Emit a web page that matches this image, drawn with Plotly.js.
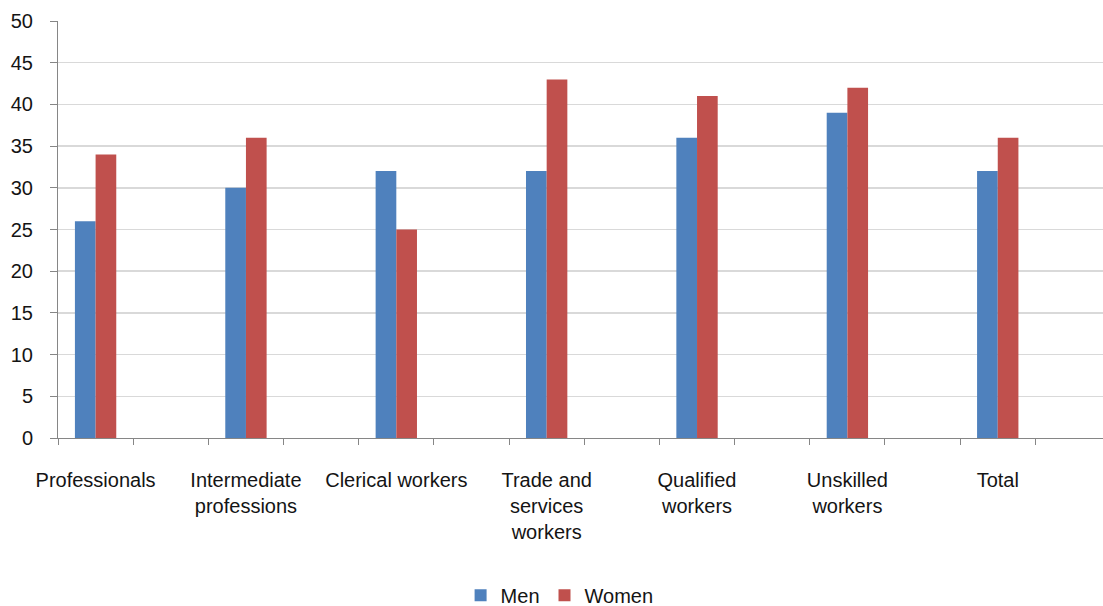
<!DOCTYPE html>
<html>
<head>
<meta charset="utf-8">
<script src="https://cdn.plot.ly/plotly-3.0.1.min.js"></script>
<style>
  html, body { margin: 0; padding: 0; background: #ffffff; }
  #chart { width: 1103px; height: 606px; }
</style>
</head>
<body>
<div id="chart"></div>
<script>
// Data
const categories = [
  "Professionals",
  "Intermediate<br>professions",
  "Clerical workers",
  "Trade and<br>services<br>workers",
  "Qualified<br>workers",
  "Unskilled<br>workers",
  "Total"
];
const men   = [26, 30, 32, 32, 36, 39, 32];
const women = [34, 36, 25, 43, 41, 42, 36];
const seriesNames = ["Men", "Women"];
const yTicks = [0, 5, 10, 15, 20, 25, 30, 35, 40, 45, 50];

// Each category is followed by an empty slot (as in the source spreadsheet)
const slotIds = [];
const slotText = [];
categories.forEach((c, i) => {
  slotIds.push("cat" + i);  slotText.push(c);
  slotIds.push("gap" + i);  slotText.push("");
});
const catIds = categories.map((c, i) => "cat" + i);

const FONT = '"Liberation Sans Narrow", "Arial Narrow", "Liberation Sans", Arial, sans-serif';
const TXT = "#141414";

const traces = [
  { type: "bar", name: seriesNames[0], x: catIds, y: men,
    marker: { color: "#4F81BD" }, hoverinfo: "y" },
  { type: "bar", name: seriesNames[1], x: catIds, y: women,
    marker: { color: "#C0504D" }, hoverinfo: "y" }
];

const layout = {
  width: 1103, height: 606,
  margin: { l: 58, r: 0, t: 21, b: 168, pad: 0, autoexpand: false },
  paper_bgcolor: "#ffffff",
  plot_bgcolor: "#ffffff",
  font: { family: FONT, size: 20, color: TXT },
  barmode: "group",
  bargap: 0.45,
  bargroupgap: 0,
  showlegend: true,
  legend: {
    orientation: "h",
    x: 0.48, xanchor: "center",
    y: -0.377, yanchor: "middle",
    font: { family: FONT, size: 20, color: TXT },
    itemwidth: 30,
    traceorder: "normal"
  },
  xaxis: {
    type: "category",
    categoryorder: "array",
    categoryarray: slotIds,
    tickvals: slotIds,
    ticktext: slotText,
    range: [-0.5, 13.4],
    tickson: "boundaries",
    tickangle: 0,
    automargin: false,
    ticks: "outside",
    ticklen: 6,
    tickwidth: 1,
    tickcolor: "#868686",
    showline: true,
    linecolor: "#868686",
    linewidth: 1,
    showgrid: false,
    zeroline: false,
    ticklabelstandoff: 24,
    tickfont: { family: FONT, size: 20, color: TXT },
    fixedrange: true
  },
  yaxis: {
    range: [0, 50],
    tickvals: yTicks,
    automargin: false,
    ticks: "outside",
    ticklen: 7,
    tickwidth: 1,
    tickcolor: "#868686",
    showline: true,
    linecolor: "#868686",
    linewidth: 1,
    showgrid: true,
    gridcolor: "#d9d9d9",
    gridwidth: 1.5,
    zeroline: false,
    ticklabelstandoff: 13,
    tickfont: { family: FONT, size: 20, color: TXT },
    fixedrange: true
  }
};

Plotly.newPlot("chart", traces, layout, { displayModeBar: false, staticPlot: true });
</script>
</body>
</html>
